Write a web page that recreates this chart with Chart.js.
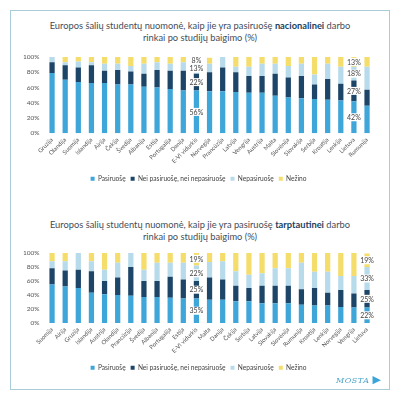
<!DOCTYPE html>
<html><head><meta charset="utf-8">
<script src="https://cdn.jsdelivr.net/npm/chart.js@4/dist/chart.umd.min.js"></script>
<style>
html,body{margin:0;padding:0;background:#fff;width:400px;height:400px;overflow:hidden;font-family:Lato,"Open Sans",sans-serif;}
#frame{position:absolute;left:10px;top:10px;width:378px;height:378px;border:1.5px solid #a8cdd7;}
.title{position:absolute;left:20px;width:360px;text-align:center;font-size:9.3px;line-height:12px;color:#3f4d59;}
.title b{color:#1d3f5e;font-weight:700;}
#t1{top:20px;} #t2{top:219px;}
#w1{position:absolute;left:12px;top:47.4px;width:376px;height:146px;}
#w2{position:absolute;left:12px;top:243.4px;width:376px;height:139px;}
#logo{position:absolute;left:336px;top:373px;font-size:8px;font-style:italic;color:#4aa3c9;letter-spacing:0.5px;font-family:"DejaVu Serif",serif;}
#logo span{color:#3aa5d8;font-style:normal;font-size:11px;}
</style></head>
<body>
<div id="frame"></div>
<div class="title" id="t1">Europos šalių studentų nuomonė, kaip jie yra pasiruošę <b>nacionalinei</b> darbo<br>rinkai po studijų baigimo (%)</div>
<div id="w1"><canvas id="c1"></canvas></div>
<div class="title" id="t2">Europos šalių studentų nuomonė, kaip jie yra pasiruošę <b>tarptautinei</b> darbo<br>rinkai po studijų baigimo (%)</div>
<div id="w2"><canvas id="c2"></canvas></div>
<div id="logo">MOSTA <span>&#9654;</span></div>
<script>
const seriesNames = ['Pasiruošę','Nei pasiruošę, nei nepasiruošę','Nepasiruošę','Nežino'];
const colors = ['#3fa6da','#1c4568','#b8dbeb','#f5dd6c'];
const yTicks = [0,20,40,60,80,100];

const cats1 = ['Gruzija','Olandija','Suomija','Islandija','Airija','Čekija','Švedija','Albanija','Estija','Portugalija','Danija','E-VI vidurkis','Norvegija','Prancūzija','Latvija','Vengrija','Austrija','Malta','Slovėnija','Slovakija','Serbija','Kroatija','Lenkija','Lietuva','Rumunija'];
const pas1 = [79,70,67,66,66,64,64,61,60,58,56,56,55,55,54,53,53,49,47,46,45,44,43,42,36];
const nei1 = [14,19,19,23,16,19,17,17,23,24,26,22,25,31,26,22,22,29,26,29,19,27,22,27,21];
const nep1 = [7,4,8,4,9,8,7,13,10,9,11,13,11,14,7,12,16,13,15,16,13,20,22,18,30];
const nez1 = [0,7,6,7,9,9,12,9,7,9,7,8,8,0,13,13,9,9,12,9,23,9,13,13,13];
const labelled1 = ['E-VI vidurkis','Lietuva'];

const cats2 = ['Suomija','Airija','Gruzija','Islandija','Austrija','Olandija','Prancūzija','Švedija','Albanija','Portugalija','Estija','E-VI vidurkis','Malta','Danija','Čekija','Serbija','Latvija','Slovakija','Slovėnija','Rumunija','Kroatija','Lenkija','Norvegija','Vengrija','Lietuva'];
const pas2 = [55,52,50,43,41,40,39,37,37,36,35,35,33,33,31,31,28,28,28,26,25,25,23,22,22];
const nei2 = [23,23,26,31,19,25,41,23,23,30,27,25,32,29,22,19,25,25,25,22,25,18,24,20,25];
const nep2 = [10,13,24,14,16,21,20,16,26,20,24,22,22,26,21,19,18,25,25,38,23,30,20,25,33];
const nez2 = [12,12,0,12,24,14,0,24,14,14,14,19,13,12,26,31,29,22,22,14,27,27,33,33,19];
const labelled2 = ['E-VI vidurkis','Lietuva'];

const FONT = 'Lato, "Open Sans", sans-serif';

const labelPlugin = {
  id:'segLabels',
  afterDatasetsDraw(chart, args, opts){
    const ctx = chart.ctx;
    const cats = chart.data.labels;
    ctx.save();
    ctx.font = '7px ' + FONT;
    ctx.textAlign = 'center';
    ctx.textBaseline = 'middle';
    chart.data.datasets.forEach((ds, di) => {
      const meta = chart.getDatasetMeta(di);
      opts.names.forEach(name => {
        const i = cats.indexOf(name);
        const v = ds.data[i];
        if (!v) return;
        const el = meta.data[i];
        const y = (el.y + el.base) / 2;
        const t = v + '%';
        const w = ctx.measureText(t).width + 3;
        ctx.fillStyle = '#fff';
        ctx.fillRect(el.x - w/2, y - 4, w, 8);
        ctx.fillStyle = '#444';
        ctx.fillText(t, el.x, y + 0.5);
      });
    });
    ctx.restore();
  }
};

function makeChart(id, cats, arrs, names, pad, xH){
  return new Chart(document.getElementById(id), {
    type:'bar',
    data:{
      labels: cats,
      datasets: arrs.map((a, k) => ({
        label: seriesNames[k], data: a, backgroundColor: colors[k],
        barPercentage: 0.4, categoryPercentage: 1.0, borderWidth: 0
      }))
    },
    options:{
      responsive:true, maintainAspectRatio:false, animation:false,
      layout:{padding:pad},
      plugins:{
        legend:{position:'bottom', labels:{boxWidth:4, boxHeight:4, padding:5, color:'#444', font:{size:6.6, family:FONT}}},
        tooltip:{enabled:false},
        title:{display:false},
        segLabels:{names:names}
      },
      scales:{
        x:{stacked:true, grid:{display:false, drawTicks:false}, border:{display:false},
           afterFit(s){ s.height = xH; },
           ticks:{color:'#555', font:{size:6, family:FONT}, maxRotation:45, minRotation:45, padding:3, autoSkip:false}},
        y:{stacked:true, min:0, max:100, grid:{display:false, drawTicks:false}, border:{display:false},
           afterFit(s){ s.width = 22; },
           afterBuildTicks(ax){ ax.ticks = yTicks.map(v => ({value:v})); },
           ticks:{color:'#555', font:{size:6.5, family:FONT}, padding:6, callback:v => v + '%'}}
      }
    },
    plugins:[labelPlugin]
  });
}

makeChart('c1', cats1, [pas1, nei1, nep1, nez1], labelled1, {left:11.5, right:14.4, top:9.9, bottom:0.9}, 37.2);
makeChart('c2', cats2, [pas2, nei2, nep2, nez2], labelled2, {left:11.5, right:14.4, top:9.9, bottom:0.9}, 36.5);
</script>
</body></html>
